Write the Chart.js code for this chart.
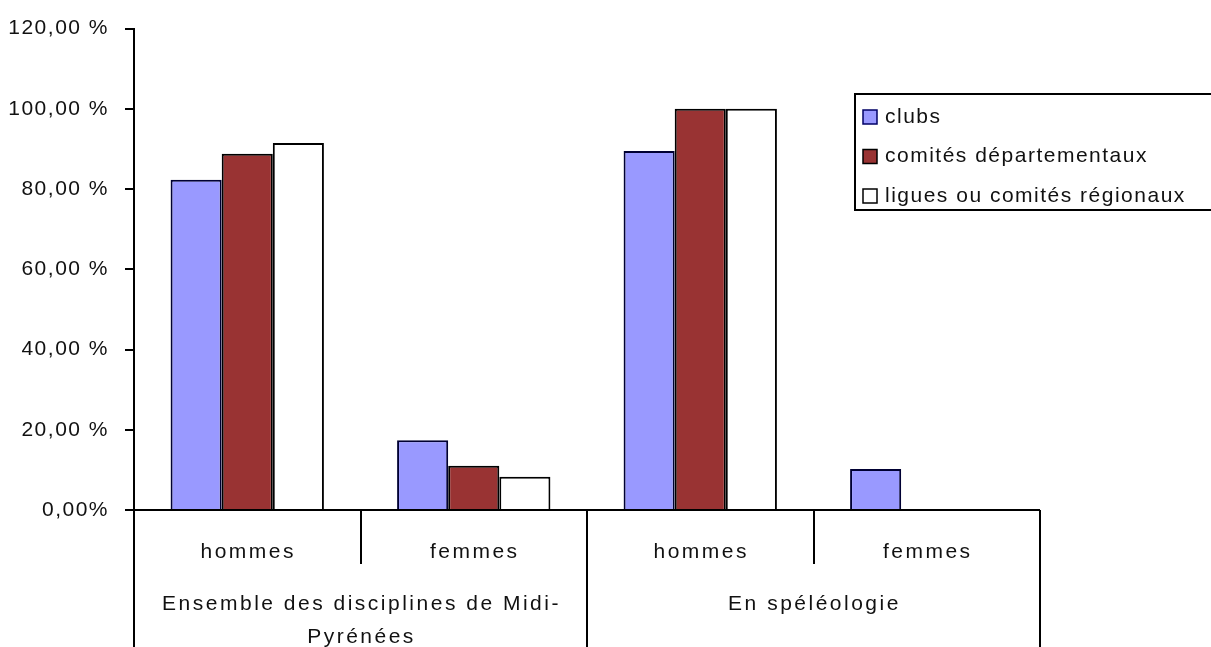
<!DOCTYPE html>
<html>
<head>
<meta charset="utf-8">
<script src="https://cdn.jsdelivr.net/npm/chart.js@4/dist/chart.umd.min.js"></script>
<style>
  html, body { margin: 0; padding: 0; background: #fff; }
  canvas { display: block; }
</style>
</head>
<body>
<canvas id="c" width="1211" height="647"></canvas>
<script>
// ---- data ----
const categories = ["hommes", "femmes", "hommes", "femmes"];
const groupLabels = [["Ensemble des disciplines de Midi-", "Pyrénées"], ["En spéléologie"]];
const groupSpans = [[0, 1], [2, 3]];
const seriesNames = ["clubs", "comités départementaux", "ligues ou comités régionaux"];
const clubs = [82.3, 17.4, 89.5, 10.2];
const comites = [88.8, 11.0, 100, 0];
const ligues = [91.5, 8.3, 100, 0];
const yTickValues = [0, 20, 40, 60, 80, 100, 120];
const yTickLabels = ["0,00%", "20,00 %", "40,00 %", "60,00 %", "80,00 %", "100,00 %", "120,00 %"];

const FONT = "Liberation Sans";
const TEXT = "#111";

const overlay = {
  id: "overlay",
  beforeDraw(chart) {
    chart.ctx.letterSpacing = "1.5px";
  },
  afterDraw(chart) {
    const ctx = chart.ctx;
    const xs = chart.scales.x, ys = chart.scales.y;
    const area = chart.chartArea;
    const n = categories.length;
    const w = (area.right - area.left) / n;
    const y0 = ys.getPixelForValue(0);
    const H = chart.height;
    ctx.save();
    ctx.strokeStyle = "#000";
    ctx.lineWidth = 2;
    // horizontal axis at 0
    ctx.beginPath();
    ctx.moveTo(area.left, y0);
    ctx.lineTo(area.left + n * w, y0);
    ctx.stroke();
    // category / group boundaries
    for (let i = 0; i <= n; i++) {
      const bx = Math.round(area.left + i * w);
      const isGroupEdge = groupSpans.some(s => s[0] === i || s[1] + 1 === i);
      ctx.beginPath();
      ctx.moveTo(bx, y0);
      ctx.lineTo(bx, isGroupEdge ? H : y0 + 54);
      ctx.stroke();
    }
    // category labels
    ctx.letterSpacing = "2.5px";
    ctx.fillStyle = TEXT;
    ctx.font = "21px '" + FONT + "'";
    ctx.textAlign = "center";
    ctx.textBaseline = "middle";
    categories.forEach((c, i) => {
      ctx.fillText(c, xs.getPixelForValue(i) + 1, y0 + 42);
    });
    // group labels
    groupLabels.forEach((lines, g) => {
      const [a, b] = groupSpans[g];
      const cx = (area.left + a * w + area.left + (b + 1) * w) / 2;
      lines.forEach((ln, k) => {
        ctx.fillText(ln, cx + 1, y0 + 94 + k * 33);
      });
    });
    // legend
    ctx.letterSpacing = "1.5px";
    const lx = 855, ly = 94, lh = 116;
    ctx.fillStyle = "#fff";
    ctx.fillRect(lx, ly, 400, lh);
    ctx.strokeStyle = "#000";
    ctx.lineWidth = 2;
    ctx.strokeRect(lx, ly, 400, lh);
    ctx.textAlign = "left";
    chart.data.datasets.forEach((ds, i) => {
      const cy = ly + 23 + i * 39.5;
      ctx.fillStyle = ds.backgroundColor;
      ctx.fillRect(863, cy - 7, 14, 14);
      ctx.lineWidth = 1.5;
      ctx.strokeStyle = i === 0 ? "#000066" : "#000";
      ctx.strokeRect(863, cy - 7, 14, 14);
      ctx.fillStyle = TEXT;
      ctx.fillText(ds.label, 885, cy);
    });
    ctx.restore();
    ctx.letterSpacing = "0px";
  }
};

new Chart(document.getElementById("c"), {
  type: "bar",
  data: {
    labels: categories,
    datasets: [
      { label: seriesNames[0], data: clubs, backgroundColor: "#9999FF", borderColor: "#000033", borderWidth: 2 },
      { label: seriesNames[1], data: comites, backgroundColor: "#993333", borderColor: "#000", borderWidth: 2 },
      { label: seriesNames[2], data: ligues, backgroundColor: "#FFFFFF", borderColor: "#000", borderWidth: 2 }
    ]
  },
  options: {
    responsive: false,
    animation: false,
    events: [],
    layout: { padding: { top: 23, right: 171, bottom: 137, left: 0 } },
    plugins: { legend: { display: false }, tooltip: { enabled: false } },
    datasets: { bar: { categoryPercentage: 0.677, barPercentage: 1.0 } },
    scales: {
      x: { display: false },
      y: {
        min: 0, max: 120,
        afterFit(s) { s.width = 134; },
        afterBuildTicks(s) { s.ticks = yTickValues.map(v => ({ value: v })); },
        border: { display: true, color: "#000", width: 2 },
        grid: { drawOnChartArea: false, drawTicks: true, tickLength: 9, color: "#000", lineWidth: 2 },
        ticks: {
          padding: 16,
          color: TEXT,
          font: { family: FONT, size: 21 },
          callback: (v) => yTickLabels[yTickValues.indexOf(v)]
        }
      }
    }
  },
  plugins: [overlay]
});
</script>
</body>
</html>
